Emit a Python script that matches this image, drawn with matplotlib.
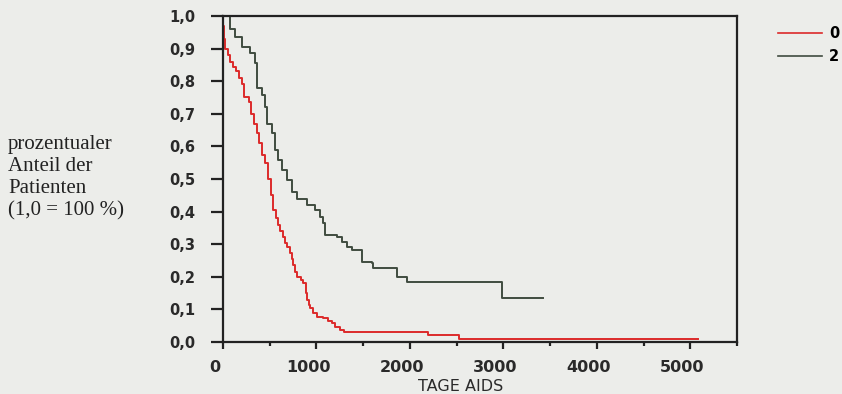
import matplotlib.pyplot as plt
import matplotlib.transforms as mtransforms
from matplotlib.ticker import MultipleLocator, FuncFormatter

# Kaplan-Meier steps (days, surviving fraction)
times0 = [0, 10, 25, 50, 80, 110, 140, 170, 200, 230, 280, 300, 330, 360, 390, 420, 450, 485, 515, 540,
          565, 590, 615, 640, 665, 690, 715, 735, 750, 770, 790, 830, 860, 885, 900, 920, 935, 965, 1010, 1070,
          1120, 1165, 1200, 1250, 1290, 2190, 2520, 5080]
surv0 = [0.97, 0.93, 0.90, 0.88, 0.86, 0.845, 0.83, 0.81, 0.79, 0.75, 0.735, 0.70, 0.67, 0.64, 0.61, 0.575, 0.55, 0.50, 0.45, 0.405,
         0.38, 0.36, 0.34, 0.322, 0.305, 0.29, 0.273, 0.255, 0.235, 0.215, 0.20, 0.19, 0.18, 0.15, 0.13, 0.115, 0.105, 0.089, 0.078, 0.074,
         0.065, 0.058, 0.045, 0.037, 0.032, 0.02, 0.01, 0.01]

times2 = [0, 75, 128, 200, 290, 340, 360, 415, 450, 470, 525, 555, 590, 630, 680, 735, 790, 900, 985, 1040,
          1070, 1090, 1220, 1270, 1325, 1380, 1485, 1590, 1605, 1860, 1970, 2985, 3420]
surv2 = [1.0, 0.96, 0.936, 0.905, 0.886, 0.855, 0.78, 0.757, 0.72, 0.67, 0.64, 0.59, 0.558, 0.528, 0.497, 0.46, 0.44, 0.42, 0.405, 0.384,
         0.365, 0.328, 0.322, 0.307, 0.291, 0.282, 0.245, 0.242, 0.227, 0.2, 0.184, 0.135, 0.135]

groups = ['0', '2']
colors = ['#dc2a2a', '#404c40']

bg = '#ecedea'
fig = plt.figure(figsize=(8.42, 3.94), dpi=100, facecolor=bg)
ax = fig.add_axes([223/842, 52/394, 514/842, 326/394], facecolor=bg)

l0, = ax.step(times0, surv0, where='post', color=colors[0], lw=1.4)
l2, = ax.step(times2, surv2, where='post', color=colors[1], lw=1.4)

ax.set_xlim(0, 5500)
ax.set_ylim(0, 1.0)
ax.xaxis.set_major_locator(MultipleLocator(1000))
ax.xaxis.set_minor_locator(MultipleLocator(500))
ax.yaxis.set_major_locator(MultipleLocator(0.1))
ax.yaxis.set_major_formatter(FuncFormatter(lambda v, p: ('%.1f' % v).replace('.', ',')))

for s in ax.spines.values():
    s.set_linewidth(1.6)
    s.set_color('#222222')

ax.tick_params(axis='y', direction='out', length=9, width=1.6, pad=11, color='#222222')
ax.tick_params(axis='x', which='major', direction='out', length=5, width=1.6, pad=8, color='#222222')
ax.tick_params(axis='x', which='minor', direction='out', length=3, width=1.6, color='#222222')
for lab in ax.get_yticklabels():
    lab.set_fontweight('bold')
    lab.set_fontsize(10.5)
    lab.set_color('#2a2a2a')
# x labels in the scan sit a little left of their ticks
shift = mtransforms.ScaledTranslation(-8/100, 0, fig.dpi_scale_trans)
for lab in ax.get_xticklabels():
    lab.set_fontweight('bold')
    lab.set_fontsize(11.5)
    lab.set_color('#2a2a2a')
    lab.set_transform(lab.get_transform() + shift)

ax.set_xlabel('TAGE AIDS', fontsize=11.5, color='#2a2a2a')
ax.xaxis.set_label_coords((461-223)/514, -0.112)

fig.text(8/842, 1 - 215/394, 'prozentualer\nAnteil der\nPatienten\n(1,0 = 100 %)',
         family='Liberation Serif', fontsize=15, color='#222222', va='baseline', ha='left', linespacing=1.2)

leg = fig.legend([l0, l2], groups, loc='upper left', bbox_to_anchor=(778/842, 1 - 26/394),
                 frameon=False, handlelength=3.0, handletextpad=0.5, labelspacing=0.55,
                 borderpad=0, borderaxespad=0, prop={'weight': 'bold', 'size': 10.5})
for ln in leg.get_lines():
    ln.set_linewidth(1.2)

fig.savefig('out.png', dpi=100, facecolor=bg)
